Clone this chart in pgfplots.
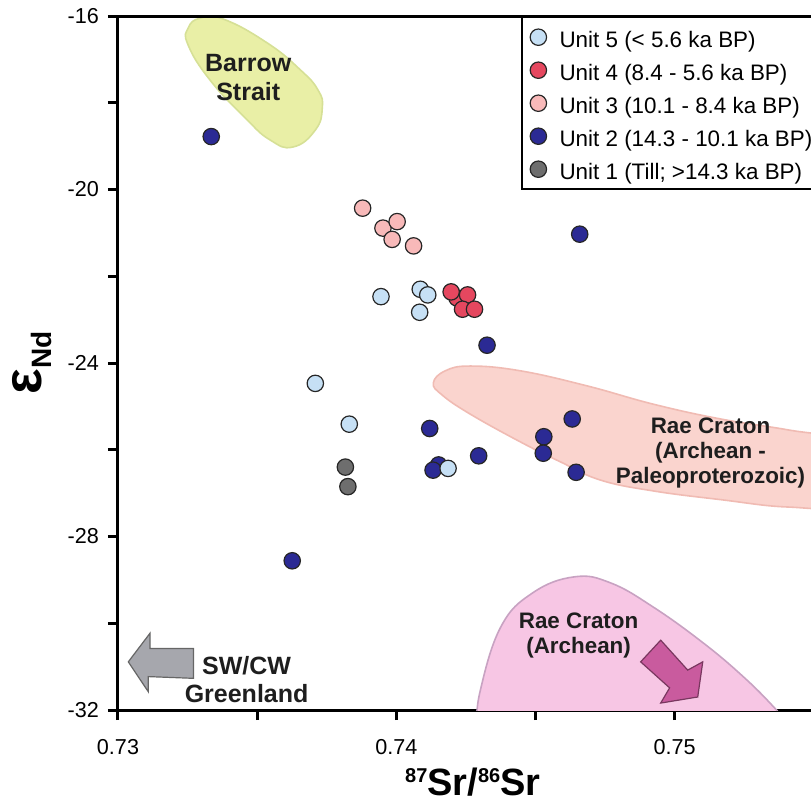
\documentclass[border=0pt]{standalone}
\usepackage{fontspec}
\setmainfont{Liberation Sans}
\usepackage{pgfplots}
\pgfplotsset{compat=1.18}
\usetikzlibrary{calc}

\definecolor{u5}{HTML}{C6E0F5}
\definecolor{u4}{HTML}{E5475F}
\definecolor{u3}{HTML}{F8B9B9}
\definecolor{u2}{HTML}{2B2A94}
\definecolor{u1}{HTML}{6E6E6E}
\definecolor{barrowfill}{HTML}{E9EFA6}
\definecolor{barrowline}{HTML}{D6E096}
\definecolor{raefill}{HTML}{FAD4CE}
\definecolor{raeline}{HTML}{F0BBB3}
\definecolor{archfill}{HTML}{F7C6E4}
\definecolor{archline}{HTML}{C8A2C2}
\definecolor{arrowpink}{HTML}{C95B9E}
\definecolor{arrowgray}{HTML}{A6A7AD}
\definecolor{txt}{HTML}{1E1E1E}

\pgfplotsset{unitmark/.style={only marks, mark=*, mark size=4.1pt,
  mark options={fill=#1, draw=black!85, line width=0.6pt}}}

\begin{document}
\begin{tikzpicture}
\begin{axis}[
  name=ax,
  scale only axis, width=346.5pt, height=347pt,
  xmin=0.73, xmax=0.7549, ymin=-32, ymax=-16,
  axis x line*=bottom, axis y line*=left,
  axis line style={line width=1.5pt, black},
  xtick={0.73,0.74,0.75}, xticklabels={0.73,0.74,0.75},
  minor xtick={0.735,0.745},
  ytick={-32,-28,-24,-20,-16}, yticklabels={-32,-28,-24,-20,-16},
  minor ytick={-30,-26,-22,-18},
  tick align=outside, major tick length=5pt, minor tick length=5pt,
  every tick/.style={black, line width=1.5pt},
  every minor tick/.style={black, line width=1.5pt},
  ticklabel style={font=\fontsize{10.8}{12}\selectfont},
  xticklabel style={yshift=-6pt},
  yticklabel style={xshift=-1pt},
  xlabel={\bfseries\raisebox{6.5pt}{\fontsize{10}{12}\selectfont 87}\fontsize{19}{22}\selectfont Sr/\raisebox{6.5pt}{\fontsize{10}{12}\selectfont 86}Sr},
  ylabel={\bfseries\fontsize{27}{29}\selectfont ε\raisebox{-5pt}{\fontsize{14}{16}\selectfont Nd}},
  every axis x label/.style={at={(rel axis cs:0.512,0)}, anchor=base, yshift=-42.5pt, inner sep=0pt},
  every axis y label/.style={at={(rel axis cs:0,0.5)}, xshift=-33pt, rotate=90, anchor=south, inner sep=0pt},
  legend style={at={(rel axis cs:0.5815,1)}, anchor=north west, draw=black, line width=1.2pt,
    fill=white, font=\fontsize{11.2}{13}\selectfont, inner xsep=4pt, inner ysep=4pt,
    row sep=4.5pt, column sep=6.5pt,
    nodes={inner sep=0pt, text height=11pt, text depth=1pt}},
  legend cell align=left,
  reverse legend,
  legend image code/.code={\draw[#1] plot coordinates {(0pt,0pt)};},
]
% source regions
\draw[barrowline, fill=barrowfill, line width=0.8pt] plot[smooth cycle, tension=0.8] coordinates {
  (axis cs:0.73252,-16.28) (axis cs:0.73295,-16.05) (axis cs:0.73378,-16.07) (axis cs:0.73536,-16.62)
  (axis cs:0.73655,-17.24) (axis cs:0.73719,-17.71) (axis cs:0.73734,-18.12) (axis cs:0.73709,-18.63)
  (axis cs:0.73629,-19.02) (axis cs:0.73547,-18.86) (axis cs:0.73457,-18.35) (axis cs:0.73331,-17.48)
  (axis cs:0.73252,-16.67)};
\draw[raeline, fill=raefill, line width=0.8pt] plot[smooth cycle, tension=0.7] coordinates {
  (axis cs:0.74133,-24.46) (axis cs:0.74176,-24.18) (axis cs:0.74266,-24.07) (axis cs:0.74446,-24.18)
  (axis cs:0.74687,-24.53) (axis cs:0.74924,-24.95) (axis cs:0.75165,-25.29) (axis cs:0.75406,-25.54)
  (axis cs:0.75597,-25.78) (axis cs:0.75705,-26.40) (axis cs:0.75597,-27.25) (axis cs:0.75406,-27.32)
  (axis cs:0.75165,-27.15) (axis cs:0.74924,-26.95) (axis cs:0.74734,-26.70) (axis cs:0.74590,-26.28)
  (axis cs:0.74446,-25.82) (axis cs:0.74266,-25.18) (axis cs:0.74165,-24.74)};
\draw[archline, fill=archfill, line width=0.8pt] plot[smooth, tension=0.7] coordinates {
  (axis cs:0.74290,-32.40) (axis cs:0.74300,-31.60) (axis cs:0.74375,-30.09) (axis cs:0.74490,-29.30)
  (axis cs:0.74640,-28.93) (axis cs:0.74770,-29.07) (axis cs:0.74924,-29.63) (axis cs:0.75104,-30.46)
  (axis cs:0.75248,-31.24) (axis cs:0.75356,-31.93) (axis cs:0.75417,-32.40)} -- cycle;
\filldraw[fill=arrowpink, draw=arrowpink!60!black, line width=0.6pt]
  (axis cs:0.74878,-30.89) -- (axis cs:0.74950,-30.39) -- (axis cs:0.75047,-31.08) -- (axis cs:0.75101,-30.89)
  -- (axis cs:0.75083,-31.70) -- (axis cs:0.74950,-31.84) -- (axis cs:0.74982,-31.49) -- cycle;
\filldraw[fill=arrowgray, draw=black!60, line width=0.6pt]
  (axis cs:0.73037,-30.89) -- (axis cs:0.73115,-30.23) -- (axis cs:0.73115,-30.58) -- (axis cs:0.73271,-30.58)
  -- (axis cs:0.73271,-31.27) -- (axis cs:0.73109,-31.23) -- (axis cs:0.73109,-31.58) -- cycle;
% region labels
\node[txt, font=\bfseries\fontsize{12.5}{14.5}\selectfont, align=center] at (axis cs:0.73468,-17.42) {Barrow\\Strait};
\node[txt, font=\bfseries\fontsize{12.5}{14}\selectfont, align=center] at (axis cs:0.73462,-31.29) {SW/CW\\Greenland};
\node[txt, font=\bfseries\fontsize{11.2}{12.5}\selectfont, align=center] at (axis cs:0.75129,-26.07) {Rae Craton\\(Archean -\\Paleoproterozoic)};
\node[txt, font=\bfseries\fontsize{11.2}{12.5}\selectfont, align=center] at (axis cs:0.74655,-30.28) {Rae Craton\\(Archean)};

% samples
\addplot[unitmark=u1] coordinates {(0.73817,-26.40) (0.73826,-26.85)};
\addlegendentry{Unit 1 (Till; >14.3 ka BP)}
\addplot[unitmark=u2] coordinates {
  (0.73335,-18.78) (0.74326,-23.59) (0.74659,-21.03) (0.73626,-28.56)
  (0.74120,-25.51) (0.74152,-26.35) (0.74132,-26.47) (0.74296,-26.14)
  (0.74632,-25.29) (0.74530,-25.70) (0.74528,-26.08) (0.74646,-26.52)};
\addlegendentry{Unit 2 (14.3 - 10.1 ka BP)}
\addplot[unitmark=u3] coordinates {
  (0.73879,-20.43) (0.73952,-20.89) (0.74003,-20.74) (0.73985,-21.15) (0.74062,-21.30)};
\addlegendentry{Unit 3 (10.1 - 8.4 ka BP)}
\addplot[unitmark=u4] coordinates {
  (0.74218,-22.50) (0.74197,-22.36) (0.74256,-22.43) (0.74238,-22.76) (0.74281,-22.76)};
\addlegendentry{Unit 4 (8.4 - 5.6 ka BP)}
\addplot[unitmark=u5] coordinates {
  (0.73709,-24.47) (0.73831,-25.41) (0.73945,-22.47) (0.74086,-22.30)
  (0.74113,-22.43) (0.74084,-22.83) (0.74186,-26.43)};
\addlegendentry{Unit 5 (< 5.6 ka BP)}
\end{axis}
\draw[line width=1.5pt] ([xshift=-0.75pt]ax.north west) -- (ax.north east);
\pgfresetboundingbox
\path[use as bounding box] ($(ax.south west)+(-59pt,-45pt)$) rectangle ($(ax.north east)+(0pt,8pt)$);
\end{tikzpicture}
\end{document}
